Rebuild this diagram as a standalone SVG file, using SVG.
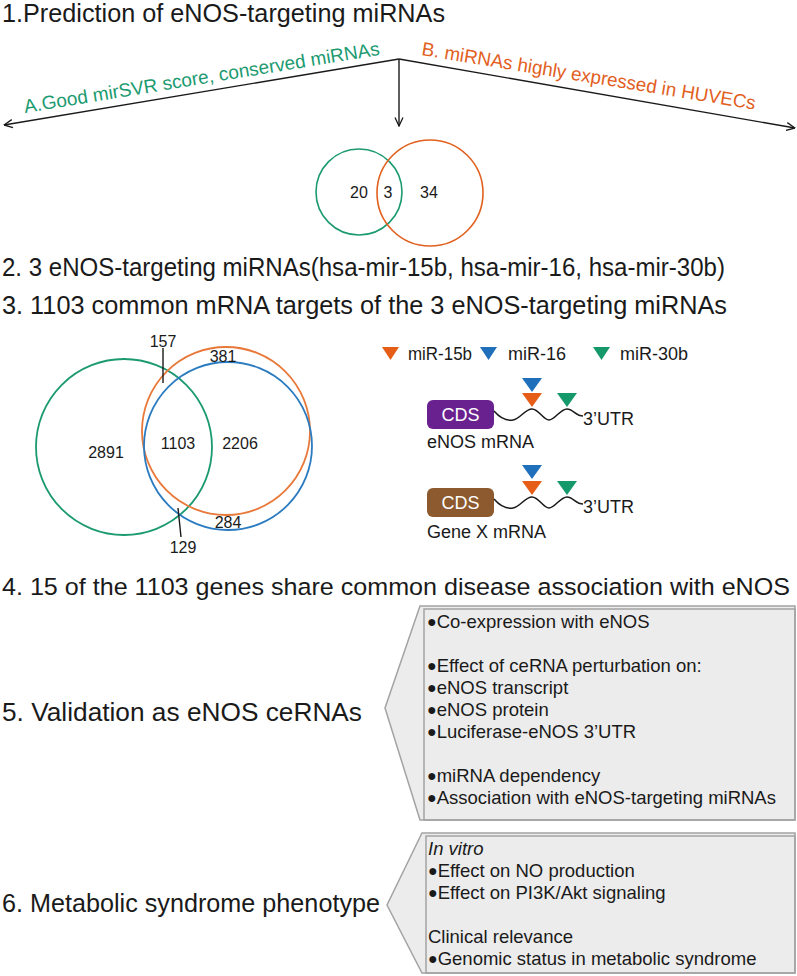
<svg xmlns="http://www.w3.org/2000/svg" width="797" height="976" viewBox="0 0 797 976">
<style>
text{font-family:"Liberation Sans",Arial,sans-serif;fill:#1a1a1a}
.h{font-size:25.5px}
.n{font-size:16px;text-anchor:middle}
.b{font-size:18.5px}
.m{font-size:18px}
.d{font-size:16px}
.g{fill:#1b9a70}
.o{fill:#e2601e}
.line{stroke:#1a1a1a;stroke-width:1.4;fill:none}
.box{fill:#ececec;stroke:#a3a3a3;stroke-width:1.5}
.inner{fill:none;stroke:#a3a3a3;stroke-width:1.5}
.wave{fill:none;stroke:#1a1a1a;stroke-width:1.5}
.tb{fill:#1f6fba}.to{fill:#e55d16}.tg{fill:#15996b}
</style>
<defs>
<marker id="arr" viewBox="0 0 10 10" refX="9.5" refY="5" markerWidth="10" markerHeight="10" markerUnits="userSpaceOnUse" orient="auto">
<path d="M1,1 L9.5,5 L1,9" fill="none" stroke="#1a1a1a" stroke-width="1.3"/>
</marker>
</defs>

<g id="headings">
<text class="h" x="2" y="22" textLength="443" lengthAdjust="spacingAndGlyphs">1.Prediction of eNOS-targeting miRNAs</text>
<text class="h" x="2" y="276" textLength="723" lengthAdjust="spacingAndGlyphs">2. 3 eNOS-targeting miRNAs(hsa-mir-15b, hsa-mir-16, hsa-mir-30b)</text>
<text class="h" x="2" y="314" textLength="725" lengthAdjust="spacingAndGlyphs">3. 1103 common mRNA targets of the 3 eNOS-targeting miRNAs</text>
<text class="h" x="2" y="595" font-size="24.3" textLength="788" lengthAdjust="spacingAndGlyphs" style="font-size:24.3px">4. 15 of the 1103 genes share common disease association with eNOS</text>
<text class="h" x="2" y="721" textLength="360" lengthAdjust="spacingAndGlyphs">5. Validation as eNOS ceRNAs</text>
<text class="h" x="2" y="912" textLength="378" lengthAdjust="spacingAndGlyphs">6. Metabolic syndrome phenotype</text>
</g>

<g id="connectors">
<line class="line" x1="399" y1="59" x2="4" y2="125" marker-end="url(#arr)"/>
<line class="line" x1="399" y1="59" x2="795" y2="128" marker-end="url(#arr)"/>
<line class="line" x1="399" y1="59" x2="399" y2="126" marker-end="url(#arr)"/>
</g>

<g id="label-a">
<text class="g" font-size="19" transform="translate(25,113) rotate(-9.3)">A.Good mirSVR score, conserved miRNAs</text>
</g>
<g id="label-b">
<text class="o" font-size="19" transform="translate(421,55) rotate(9.3)" textLength="338" lengthAdjust="spacingAndGlyphs">B. miRNAs highly expressed in HUVECs</text>
</g>

<g id="venn1">
<circle cx="359" cy="192" r="43" fill="none" stroke="#1b9a70" stroke-width="1.6"/>
<circle cx="430" cy="193" r="53" fill="none" stroke="#e2601e" stroke-width="1.6"/>
<text class="n" x="359" y="198">20</text>
<text class="n" x="388" y="198">3</text>
<text class="n" x="429" y="198">34</text>
</g>

<g id="venn2">
<circle cx="124" cy="447" r="88" fill="none" stroke="#1b9a70" stroke-width="1.8"/>
<circle cx="226" cy="431" r="84" fill="none" stroke="#e8793a" stroke-width="1.8"/>
<circle cx="228" cy="446" r="84" fill="none" stroke="#2b7bc0" stroke-width="1.8"/>
<line x1="163" y1="348" x2="163" y2="383" stroke="#1a1a1a" stroke-width="1.4"/>
<line x1="178" y1="508" x2="181" y2="537" stroke="#1a1a1a" stroke-width="1.4"/>
<text class="n" x="163" y="347">157</text>
<text class="n" x="223" y="361.5">381</text>
<text class="n" x="106" y="458">2891</text>
<text class="n" x="178" y="449">1103</text>
<text class="n" x="240" y="449">2206</text>
<text class="n" x="228" y="527.5">284</text>
<text class="n" x="183" y="553">129</text>
</g>

<g id="legend">
<polygon class="to" points="382,347 399,347 390.5,360"/>
<text class="m" x="408" y="360" textLength="64" lengthAdjust="spacingAndGlyphs">miR-15b</text>
<polygon class="tb" points="480,347 497,347 488.5,360"/>
<text class="m" x="508" y="360">miR-16</text>
<polygon class="tg" points="593,347 610,347 601.5,360"/>
<text class="m" x="620" y="360">miR-30b</text>
</g>

<g id="enos-mrna">
<rect x="427" y="400" width="67" height="29" rx="6" fill="#6a2190"/>
<text class="m" x="460.5" y="421" text-anchor="middle" style="fill:#ffffff">CDS</text>
<path class="wave" d="M494,411 C500,418 506,421 513,420 C520,419 525,409 532,409 C539,409 543,420 549,420 C555,420 560,409 567,409 C573,409 576,416 583,416"/>
<polygon class="tb" points="522,378 542,378 532,392"/>
<polygon class="to" points="522,393 542,393 532,407"/>
<polygon class="tg" points="557,393 577,393 567,407"/>
<text class="m" x="583" y="425">3’UTR</text>
<text class="m" x="427" y="448">eNOS mRNA</text>
</g>

<g id="genex-mrna">
<rect x="427" y="488" width="67" height="29" rx="6" fill="#8c5a2e"/>
<text class="m" x="460.5" y="509" text-anchor="middle" style="fill:#ffffff">CDS</text>
<path class="wave" d="M494,499 C500,506 506,509 513,508 C520,507 525,497 532,497 C539,497 543,508 549,508 C555,508 560,497 567,497 C573,497 576,504 583,504"/>
<polygon class="tb" points="522,465 542,465 532,479"/>
<polygon class="to" points="522,481 542,481 532,495"/>
<polygon class="tg" points="557,481 577,481 567,495"/>
<text class="m" x="583" y="513">3’UTR</text>
<text class="m" x="427" y="538">Gene X mRNA</text>
</g>

<g id="validation-box">
<polygon class="box" points="420,606 795,606 795,820 420,820 385,708"/>
<rect class="inner" x="424" y="609" width="371" height="211"/>
<text class="b" x="427" y="628"><tspan class="d" dy="-1.5">●</tspan><tspan dy="1.5">Co-expression with eNOS</tspan></text>
<text class="b" x="427" y="672"><tspan class="d" dy="-1.5">●</tspan><tspan dy="1.5">Effect of ceRNA perturbation on:</tspan></text>
<text class="b" x="427" y="694"><tspan class="d" dy="-1.5">●</tspan><tspan dy="1.5">eNOS transcript</tspan></text>
<text class="b" x="427" y="716"><tspan class="d" dy="-1.5">●</tspan><tspan dy="1.5">eNOS protein</tspan></text>
<text class="b" x="427" y="738"><tspan class="d" dy="-1.5">●</tspan><tspan dy="1.5">Luciferase-eNOS 3’UTR</tspan></text>
<text class="b" x="427" y="782"><tspan class="d" dy="-1.5">●</tspan><tspan dy="1.5">miRNA dependency</tspan></text>
<text class="b" x="427" y="804"><tspan class="d" dy="-1.5">●</tspan><tspan dy="1.5">Association with eNOS-targeting miRNAs</tspan></text>
</g>

<g id="phenotype-box">
<polygon class="box" points="422,833 795,833 795,973 422,973 387,905"/>
<rect class="inner" x="426" y="836" width="369" height="137"/>
<text class="b" x="428" y="855" font-style="italic">In vitro</text>
<text class="b" x="428" y="877"><tspan class="d" dy="-1.5">●</tspan><tspan dy="1.5">Effect on NO production</tspan></text>
<text class="b" x="428" y="899"><tspan class="d" dy="-1.5">●</tspan><tspan dy="1.5">Effect on PI3K/Akt signaling</tspan></text>
<text class="b" x="428" y="943">Clinical relevance</text>
<text class="b" x="428" y="965"><tspan class="d" dy="-1.5">●</tspan><tspan dy="1.5">Genomic status in metabolic syndrome</tspan></text>
</g>
</svg>
